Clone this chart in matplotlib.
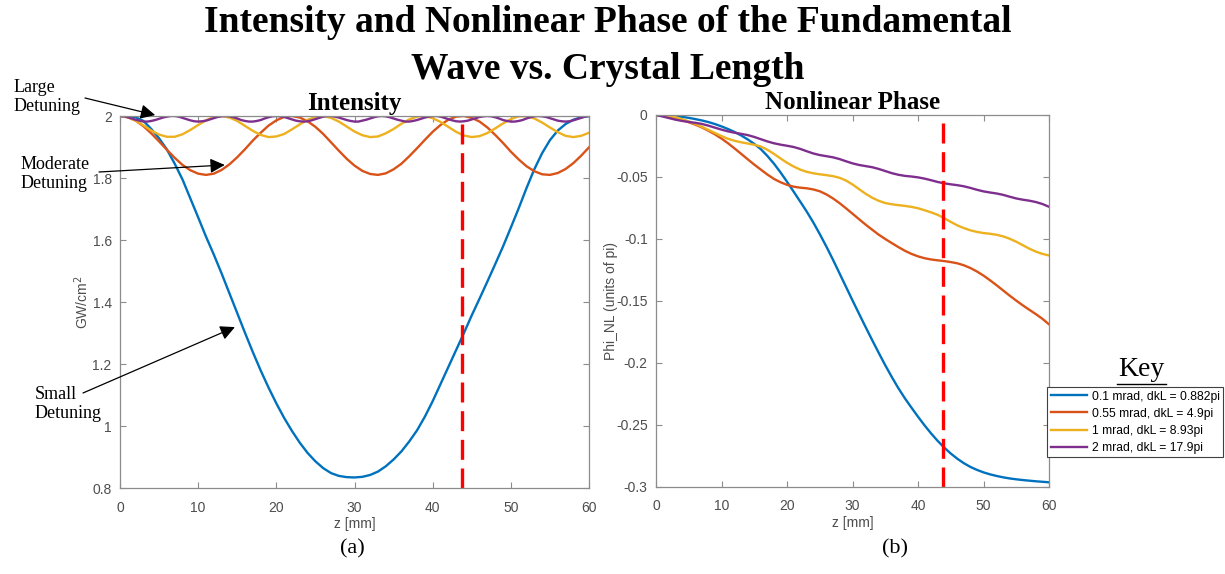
import numpy as np
import matplotlib

matplotlib.use('Agg')
import matplotlib.pyplot as plt
from matplotlib.lines import Line2D

# Длина кристалла, мм
z = np.linspace(0, 60, 61)
z_fine = np.linspace(0, 60, 121)

# Интенсивность основной волны, GW/cm^2
int_01 = [2.000, 1.999, 1.996, 1.984, 1.958, 1.928, 1.892, 1.846, 1.795, 1.734,
          1.673, 1.611, 1.553, 1.492, 1.428, 1.364, 1.300, 1.238, 1.179, 1.124,
          1.073, 1.026, 0.984, 0.946, 0.913, 0.886, 0.864, 0.848, 0.839, 0.835,
          0.834, 0.836, 0.842, 0.853, 0.870, 0.892, 0.918, 0.950, 0.986, 1.030,
          1.080, 1.135, 1.190, 1.245, 1.300, 1.357, 1.411, 1.466, 1.522, 1.579,
          1.640, 1.702, 1.767, 1.828, 1.880, 1.922, 1.953, 1.974, 1.988, 1.996,
          2.000]
int_055 = [2.000, 1.996, 1.985, 1.967, 1.944, 1.918, 1.891, 1.865, 1.842, 1.825,
           1.814, 1.810, 1.814, 1.826, 1.844, 1.867, 1.893, 1.921, 1.946, 1.969,
           1.986, 1.997, 2.000, 1.995, 1.983, 1.965, 1.942, 1.915, 1.888, 1.862,
           1.840, 1.823, 1.813, 1.810, 1.815, 1.828, 1.846, 1.870, 1.896, 1.923,
           1.949, 1.971, 1.988, 1.998, 2.000, 1.994, 1.982, 1.963, 1.939, 1.913,
           1.885, 1.860, 1.838, 1.822, 1.812, 1.810, 1.816, 1.829, 1.848, 1.872,
           1.899]
int_1 = [2.000, 1.996, 1.985, 1.970, 1.953, 1.940, 1.933, 1.933, 1.941, 1.955,
         1.971, 1.986, 1.997, 2.000, 1.995, 1.984, 1.968, 1.952, 1.939, 1.932,
         1.934, 1.942, 1.957, 1.973, 1.988, 1.997, 2.000, 1.994, 1.982, 1.966,
         1.950, 1.938, 1.932, 1.934, 1.944, 1.958, 1.975, 1.989, 1.998, 2.000,
         1.993, 1.981, 1.965, 1.949, 1.937, 1.932, 1.935, 1.945, 1.960, 1.976,
         1.990, 1.999, 1.999, 1.992, 1.979, 1.963, 1.948, 1.936, 1.932, 1.936,
         1.946]
# 2 mrad - шаг 0.5 мм
int_2 = [2.000, 1.999, 1.996, 1.992, 1.988, 1.985, 1.982, 1.982, 1.984, 1.987,
         1.991, 1.995, 1.998, 2.000, 2.000, 1.998, 1.994, 1.990, 1.986, 1.983,
         1.982, 1.983, 1.985, 1.989, 1.993, 1.997, 1.999, 2.000, 1.999, 1.996,
         1.992, 1.987, 1.984, 1.982, 1.982, 1.984, 1.987, 1.992, 1.996, 1.999,
         2.000, 1.999, 1.997, 1.993, 1.989, 1.985, 1.983, 1.982, 1.983, 1.986,
         1.990, 1.994, 1.998, 2.000, 2.000, 1.998, 1.995, 1.991, 1.987, 1.984,
         1.982, 1.982, 1.985, 1.988, 1.992, 1.996, 1.999,
         2.000, 1.999, 1.996, 1.992, 1.988, 1.985, 1.982, 1.982, 1.984, 1.987,
         1.991, 1.995, 1.998, 2.000, 2.000, 1.998, 1.994, 1.990, 1.986, 1.983,
         1.982, 1.983, 1.985, 1.989, 1.993, 1.997, 1.999, 2.000, 1.999, 1.996,
         1.992, 1.987, 1.984, 1.982, 1.982, 1.984, 1.987, 1.992, 1.996, 1.999,
         2.000, 1.999, 1.997, 1.993, 1.989, 1.985, 1.983, 1.982, 1.983, 1.986,
         1.990, 1.994, 1.998, 2.000]

# Нелинейная фаза, единицы pi
ph_01 = [0.0, -0.0001, -0.0004, -0.0009, -0.0015, -0.0023, -0.0033, -0.0044, -0.0057, -0.0073,
         -0.0092, -0.0113, -0.0137, -0.0165, -0.0197, -0.0233, -0.0275, -0.0330, -0.0392, -0.0462,
         -0.0538, -0.0617, -0.0697, -0.0778, -0.0865, -0.0960, -0.1060, -0.1165, -0.1275, -0.1385,
         -0.1495, -0.1603, -0.1710, -0.1815, -0.1918, -0.2018, -0.2113, -0.2203, -0.2285, -0.2360,
         -0.2433, -0.2503, -0.2568, -0.2628, -0.2682, -0.2730, -0.2772, -0.2808, -0.2838, -0.2862,
         -0.2882, -0.2898, -0.2911, -0.2922, -0.2931, -0.2938, -0.2944, -0.2949, -0.2954, -0.2958,
         -0.2962]
ph_055 = [0.0, -0.0003, -0.0012, -0.0025, -0.0040, -0.0058, -0.0078, -0.0100, -0.0127, -0.0156,
          -0.0190, -0.0228, -0.0270, -0.0313, -0.0357, -0.0400, -0.0440, -0.0480, -0.0515, -0.0542,
          -0.0563, -0.0578, -0.0586, -0.0591, -0.0600, -0.0615, -0.0640, -0.0672, -0.0710, -0.0752,
          -0.0796, -0.0840, -0.0884, -0.0925, -0.0965, -0.1000, -0.1033, -0.1065, -0.1095, -0.1120,
          -0.1140, -0.1155, -0.1165, -0.1172, -0.1178, -0.1186, -0.1196, -0.1212, -0.1234, -0.1262,
          -0.1295, -0.1333, -0.1373, -0.1415, -0.1457, -0.1497, -0.1535, -0.1571, -0.1606, -0.1644,
          -0.1688]
ph_1 = [0.0, -0.0002, -0.0008, -0.0018, -0.0034, -0.0052, -0.0072, -0.0095, -0.0120, -0.0145,
        -0.0170, -0.0192, -0.0208, -0.0220, -0.0230, -0.0240, -0.0254, -0.0280, -0.0313, -0.0350,
        -0.0385, -0.0415, -0.0440, -0.0458, -0.0470, -0.0478, -0.0485, -0.0493, -0.0506, -0.0528,
        -0.0560, -0.0598, -0.0635, -0.0667, -0.0692, -0.0710, -0.0720, -0.0727, -0.0733, -0.0741,
        -0.0752, -0.0768, -0.0785, -0.0805, -0.0832, -0.0862, -0.0890, -0.0912, -0.0930, -0.0943,
        -0.0952, -0.0958, -0.0966, -0.0979, -0.0998, -0.1022, -0.1050, -0.1078, -0.1102, -0.1120,
        -0.1133]
ph_2 = [0.0, -0.0012, -0.0025, -0.0038, -0.0048, -0.0056, -0.0063, -0.0072, -0.0086, -0.0102,
        -0.0118, -0.0132, -0.0143, -0.0152, -0.0162, -0.0177, -0.0195, -0.0213, -0.0228, -0.0239,
        -0.0248, -0.0258, -0.0273, -0.0292, -0.0310, -0.0323, -0.0332, -0.0341, -0.0355, -0.0373,
        -0.0390, -0.0403, -0.0412, -0.0421, -0.0435, -0.0452, -0.0469, -0.0482, -0.0491, -0.0496,
        -0.0503, -0.0513, -0.0526, -0.0540, -0.0551, -0.0559, -0.0566, -0.0575, -0.0588, -0.0603,
        -0.0616, -0.0625, -0.0633, -0.0644, -0.0659, -0.0673, -0.0683, -0.0691, -0.0702, -0.0718,
        -0.0740]

labels = ["0.1 mrad, dkL = 0.882pi", "0.55 mrad, dkL = 4.9pi",
          "1 mrad, dkL = 8.93pi", "2 mrad, dkL = 17.9pi"]
colors = ["#0072BD", "#D95319", "#EDB120", "#7E2F8E"]

z_cut = 43.8  # красная пунктирная линия

int_ticks = [0.8, 1.0, 1.2, 1.4, 1.6, 1.8, 2.0]
int_ticklabels = ["0.8", "1", "1.2", "1.4", "1.6", "1.8", "2"]
ph_ticks = [-0.3, -0.25, -0.2, -0.15, -0.1, -0.05, 0.0]
ph_ticklabels = ["-0.3", "-0.25", "-0.2", "-0.15", "-0.1", "-0.05", "0"]
z_ticks = [0, 10, 20, 30, 40, 50, 60]

SERIF = "Liberation Serif"
SANS = "Liberation Sans"
W, H = 1225, 574
GRAY_TXT = "#4d4d4d"
GRAY_AX = "#8c8c8c"

plt.rcParams['font.family'] = SANS

fig = plt.figure(figsize=(W / 100, H / 100), dpi=100)
ax1 = fig.add_axes([120 / W, 1 - 488 / H, 469 / W, 372 / H])
ax2 = fig.add_axes([656 / W, 1 - 487 / H, 393 / W, 372 / H])


def style_axes(ax):
    for sp in ax.spines.values():
        sp.set_color(GRAY_AX)
        sp.set_linewidth(0.9)
    ax.tick_params(direction='in', length=4, width=0.8, color=GRAY_AX,
                   labelcolor=GRAY_TXT, labelsize=10, top=True, right=True)
    ax.tick_params(axis='x', pad=9)
    ax.tick_params(axis='y', pad=6)
    ax.set_xlim(0, 60)
    ax.set_xticks(z_ticks)
    ax.set_xlabel("z [mm]", color=GRAY_TXT, fontsize=10, labelpad=2)


# Интенсивность
ax1.plot(z, int_01, color=colors[0], lw=1.7)
ax1.plot(z, int_055, color=colors[1], lw=1.7)
ax1.plot(z, int_1, color=colors[2], lw=1.7)
ax1.plot(z_fine, int_2, color=colors[3], lw=1.7)
ax1.axvline(z_cut, color='red', lw=2.4, dashes=(6, 2.6))
ax1.set_ylim(0.8, 2.0)
ax1.set_yticks(int_ticks)
ax1.set_yticklabels(int_ticklabels)
ax1.set_ylabel("GW/cm$^2$", color=GRAY_TXT, fontsize=10)
ax1.yaxis.set_label_coords(-0.062, 0.5)
style_axes(ax1)
ax1.set_title("Intensity", fontfamily=SERIF, fontweight='bold', fontsize=18, pad=4)

# Нелинейная фаза
lines = []
for ph, c in [(ph_01, colors[0]), (ph_055, colors[1]), (ph_1, colors[2]), (ph_2, colors[3])]:
    ln, = ax2.plot(z, ph, color=c, lw=1.7)
    lines.append(ln)
ax2.axvline(z_cut, ymax=0.985, color='red', lw=2.4, dashes=(6, 2.6))
ax2.set_ylim(-0.3, 0)
ax2.set_yticks(ph_ticks)
ax2.set_yticklabels(ph_ticklabels)
ax2.set_ylabel("Phi_NL (units of pi)", color=GRAY_TXT, fontsize=10)
ax2.yaxis.set_label_coords(-0.097, 0.5)
style_axes(ax2)
ax2.set_title("Nonlinear Phase", fontfamily=SERIF, fontweight='bold', fontsize=18, pad=4)

leg = ax2.legend(lines, labels, loc='upper left', bbox_to_anchor=(1047 / W, 1 - 387 / H),
                 bbox_transform=fig.transFigure, fontsize=8.7, fancybox=False,
                 edgecolor='#404040', framealpha=1, handlelength=3.0, handletextpad=0.4,
                 borderpad=0.3, labelspacing=0.42, borderaxespad=0)
leg.get_frame().set_linewidth(0.8)

fig.text(1141 / W, 1 - 369 / H, "Key", fontfamily=SERIF, fontsize=20, ha='center', va='center')
fig.add_artist(Line2D([1117 / W, 1166 / W], [1 - 384 / H, 1 - 384 / H], color='black', lw=1.0))

# Заголовок
fig.text(608 / W, 1 - 46 / H, "Intensity and Nonlinear Phase of the Fundamental\nWave vs. Crystal Length",
         fontfamily=SERIF, fontweight='bold', fontsize=27, ha='center', va='center', linespacing=1.42)

fig.text(352 / W, 1 - 549 / H, "(a)", fontfamily=SERIF, fontsize=16, ha='center', va='center')
fig.text(895 / W, 1 - 549 / H, "(b)", fontfamily=SERIF, fontsize=16, ha='center', va='center')

# Подписи со стрелками
fig.text(14 / W, 1 - 97 / H, "Large\nDetuning", fontfamily=SERIF, fontsize=13,
         ha='left', va='center', linespacing=1.1)
fig.text(21 / W, 1 - 174 / H, "Moderate\nDetuning", fontfamily=SERIF, fontsize=13,
         ha='left', va='center', linespacing=1.1)
fig.text(35 / W, 1 - 404 / H, "Small\nDetuning", fontfamily=SERIF, fontsize=13,
         ha='left', va='center', linespacing=1.1)

arrow = dict(arrowstyle='-|>', mutation_scale=22, color='black', lw=0.9, shrinkA=0, shrinkB=0)
ax1.annotate("", xy=(4.5, 2.003), xycoords='data', xytext=(85, H - 98),
             textcoords='figure pixels', arrowprops=arrow, annotation_clip=False)
ax1.annotate("", xy=(13.4, 1.842), xycoords='data', xytext=(99, H - 172),
             textcoords='figure pixels', arrowprops=arrow, annotation_clip=False)
ax1.annotate("", xy=(14.7, 1.319), xycoords='data', xytext=(83, H - 393),
             textcoords='figure pixels', arrowprops=arrow, annotation_clip=False)

fig.savefig("out.png", dpi=100)
